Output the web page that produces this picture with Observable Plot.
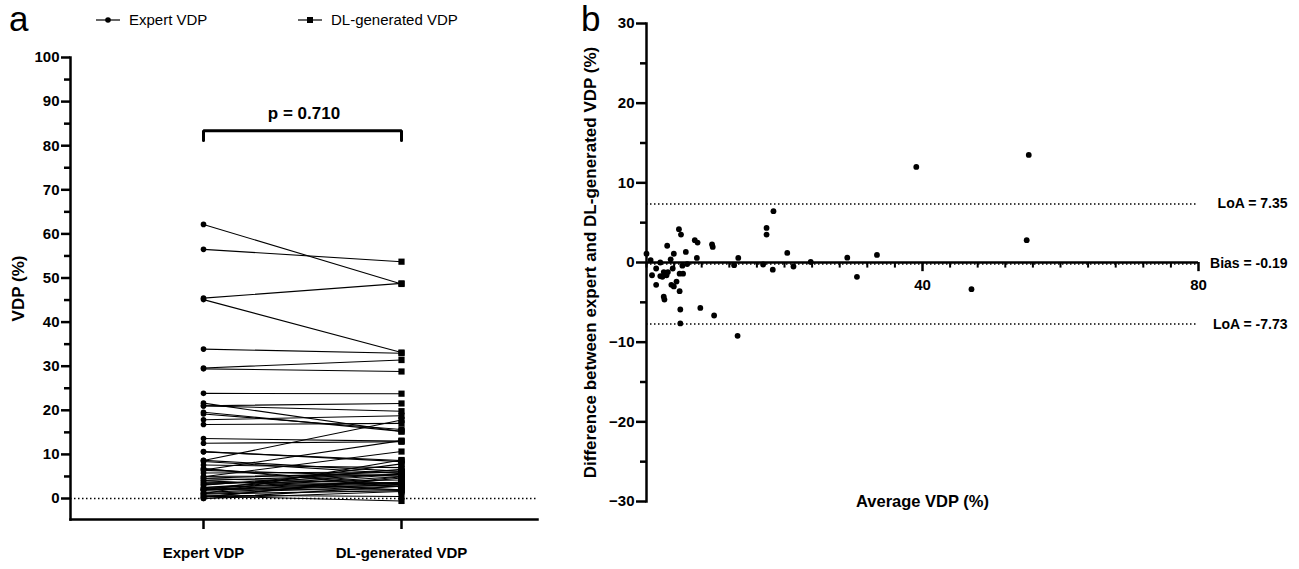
<!DOCTYPE html>
<html><head><meta charset="utf-8">
<script src="https://cdn.jsdelivr.net/npm/d3@7"></script>
<script src="https://cdn.jsdelivr.net/npm/@observablehq/plot@0.6"></script>
<style>
body{margin:0;background:#fff;}
#wrap{position:relative;width:1299px;height:569px;overflow:hidden;font-family:"Liberation Sans",Arial,sans-serif;color:#000;}
#wrap svg.pl{position:absolute;top:0;}
.lab{position:absolute;font-size:35px;line-height:1;}
.leg{position:absolute;font-size:15px;display:flex;align-items:center;gap:9px;line-height:1;}
</style></head><body>
<div id="wrap">
  <div class="lab" style="left:9px;top:1px;">a</div>
  <div class="lab" style="left:581px;top:1px;">b</div>
  <div class="leg" style="left:96px;top:12px;"><svg width="24" height="10"><line x1="0" y1="5" x2="24" y2="5" stroke="#000" stroke-width="1.2"/><circle cx="12" cy="5" r="2.8" fill="#000"/></svg><span>Expert VDP</span></div>
  <div class="leg" style="left:298px;top:12px;"><svg width="24" height="10"><line x1="0" y1="5" x2="24" y2="5" stroke="#000" stroke-width="1.2"/><rect x="9" y="2" width="6" height="6" fill="#000"/></svg><span>DL-generated VDP</span></div>
</div>
<script>
// ---- data ----
const groups = ["Expert VDP", "DL-generated VDP"];
const expert = [62.15, 56.5, 45.43, 45.1, 33.88, 29.6, 29.4, 23.84, 21.05, 21.0, 21.62, 19.57, 19.15, 17.85, 16.78, 13.59, 12.53, 8.6, 10.63, 10.58, 6.48, 4.95, 8.4, 8.65, 7.59, 6.37, 6.79, 6.75, 1.08, 1.95, 3.0, 4.1, 4.6, 5.0, 5.8, 4.51, 3.43, 3.7, 4.05, 3.15, 2.46, 2.2, 2.1, 1.9, 1.95, 1.15, 0.35, 0.28, 0.0, 0.0, 1.03, 2.0, 0.75, 0.55, 1.4, 2.5];
const dl = [48.65, 53.7, 48.78, 33.1, 32.93, 31.4, 28.8, 23.77, 21.55, 19.8, 15.18, 15.23, 15.65, 18.75, 17.03, 13.01, 12.87, 17.8, 8.37, 8.62, 13.13, 10.65, 5.6, 6.15, 7.01, 5.04, 2.61, 3.25, 8.73, 7.85, 6.6, 5.5, 6.0, 5.4, 6.0, 3.41, 4.18, 3.3, 1.95, 5.55, 5.46, 5.0, 3.7, 3.1, 3.45, 2.85, 4.65, 4.93, 2.8, 1.6, 1.78, 2.0, 0.45, -0.55, 3.2, 3.7];
const avgVDP = [55.4, 55.1, 47.1, 39.1, 33.4, 30.5, 29.1, 23.8, 21.3, 20.4, 18.4, 17.4, 17.4, 18.3, 16.9, 13.3, 12.7, 13.2, 9.5, 9.6, 9.8, 7.8, 7.0, 7.4, 7.3, 5.7, 4.7, 5.0, 4.9, 4.9, 4.8, 4.8, 5.3, 5.2, 5.9, 3.96, 3.8, 3.5, 3.0, 4.35, 3.96, 3.6, 2.9, 2.5, 2.7, 2.0, 2.5, 2.6, 1.4, 0.8, 1.4, 2.0, 0.6, 0.0, 2.3, 3.1];
const diffVDP = [13.5, 2.8, -3.35, 12.0, 0.95, -1.8, 0.6, 0.07, -0.5, 1.2, 6.44, 4.34, 3.5, -0.9, -0.25, 0.58, -0.34, -9.2, 2.26, 1.96, -6.65, -5.7, 2.8, 2.5, 0.58, 1.33, 4.18, 3.5, -7.65, -5.9, -3.6, -1.4, -1.4, -0.4, -0.2, 1.1, -0.75, 0.4, 2.1, -2.4, -3.0, -2.8, -1.6, -1.2, -1.5, -1.7, -4.3, -4.65, -2.8, -1.6, -0.75, 0.0, 0.3, 1.1, -1.8, -1.2];
const yTicksA = [0, 10, 20, 30, 40, 50, 60, 70, 80, 90, 100];
const yMinorA = [5, 15, 25, 35, 45, 55, 65, 75, 85, 95];
const yTicksB = [-30, -20, -10, 0, 10, 20, 30];
const yMinorB = [-25, -15, -5, 5, 15, 25];
const xMinorB = [0, 4, 8, 12, 16, 20, 24, 28, 32, 36, 44, 48, 52, 56, 60, 64, 68, 72, 76];
const xMajorB = [40, 80];
const pLabel = "p = 0.710";
const pLevels = [81.2, 83.4];   // bracket foot / top
const pTextLevel = 87.3;
const refValues = [7.35, -0.19, -7.73];
const refLabels = ["LoA = 7.35", "Bias = -0.19", "LoA = -7.73"];

const FONT = "'Liberation Sans', Arial, Helvetica, sans-serif";

// ---- panel a ----
const rows = expert.flatMap((e, i) => [{id: i, g: groups[0], v: e}, {id: i, g: groups[1], v: dl[i]}]);
const bracket = [
  {g: groups[0], v: pLevels[0]}, {g: groups[0], v: pLevels[1]},
  {g: groups[1], v: pLevels[1]}, {g: groups[1], v: pLevels[0]}
];
const plotA = Plot.plot({
  width: 560, height: 569,
  marginLeft: 70, marginRight: 23, marginTop: 57, marginBottom: 50,
  style: {fontFamily: FONT, fontWeight: "bold", fontSize: "15px", color: "#000", background: "transparent", overflow: "visible"},
  x: {type: "point", domain: groups, range: [203, 401], padding: 0, axis: null},
  y: {domain: [-4.76, 100], range: [519, 57], axis: null},
  marks: [
    Plot.ruleY([0], {stroke: "#000", strokeWidth: 1.5, strokeDasharray: "1.5,2.5"}),
    Plot.line(rows, {x: "g", y: "v", z: "id", stroke: "#000", strokeWidth: 1.1}),
    Plot.dot(rows.filter(d => d.g === groups[0]), {x: "g", y: "v", r: 2.8, fill: "#000", symbol: "circle"}),
    Plot.dot(rows.filter(d => d.g === groups[1]), {x: "g", y: "v", r: 3.5, fill: "#000", symbol: "square"}),
    Plot.line(bracket, {x: "g", y: "v", stroke: "#000", strokeWidth: 3, strokeLinejoin: "miter"}),
    Plot.text([pLabel], {y: [pTextLevel], frameAnchor: "middle", text: d => d, fontSize: 17, fontWeight: "bold"}),
    Plot.frame({anchor: "left", stroke: "#000", strokeWidth: 2.5, strokeLinecap: "square"}),
    Plot.frame({anchor: "bottom", stroke: "#000", strokeWidth: 2.5, strokeLinecap: "square"}),
    Plot.axisY(yTicksA, {tickSize: 9, strokeWidth: 2.5, tickPadding: 2, label: null, fontSize: 15}),
    Plot.axisY(yMinorA, {tickSize: 6, strokeWidth: 2.5, tickFormat: () => "", label: null}),
    Plot.axisX(groups, {tickSize: 10, strokeWidth: 2.5, tickPadding: 18, label: null, fontSize: 15}),
    Plot.text(["VDP (%)"], {frameAnchor: "left", dx: -52, rotate: -90, textAnchor: "middle", text: d => d, fontSize: 17, fontWeight: "bold"})
  ]
});
plotA.classList.add("pl");
plotA.style.left = "0px";

// ---- panel b ----
const ptsB = avgVDP.map((a, i) => ({a, d: diffVDP[i]}));
const refs = refValues.map((v, i) => ({v, label: refLabels[i]}));
const plotB = Plot.plot({
  width: 739, height: 569,
  marginLeft: 86, marginRight: 101, marginTop: 23, marginBottom: 68,
  style: {fontFamily: FONT, fontWeight: "bold", fontSize: "15px", color: "#000", background: "transparent", overflow: "visible"},
  x: {domain: [0, 80], axis: null},
  y: {domain: [-30, 30], axis: null},
  marks: [
    Plot.ruleY(refs, {y: "v", x1: 0, x2: 80, stroke: "#000", strokeWidth: 1.5, strokeDasharray: "1.5,2.5"}),
    Plot.ruleY([0], {x1: 0, x2: 80, stroke: "#000", strokeWidth: 2.5}),
    Plot.ruleX(xMinorB, {x: d => d, y1: 0, y2: -0.7, stroke: "#000", strokeWidth: 2}),
    Plot.ruleX(xMajorB, {x: d => d, y1: 0, y2: -1.15, stroke: "#000", strokeWidth: 2.5}),
    Plot.text(xMajorB, {x: d => d, y: () => 0, dy: 23, text: d => String(d), fontSize: 15, fontWeight: "bold"}),
    Plot.dot(ptsB, {x: "a", y: "d", r: 2.9, fill: "#000"}),
    Plot.frame({anchor: "left", stroke: "#000", strokeWidth: 2.5}),
    Plot.axisY(yTicksB, {tickSize: 10, strokeWidth: 2.5, tickPadding: 2, label: null, fontSize: 15}),
    Plot.axisY(yMinorB, {tickSize: 6, strokeWidth: 2.5, tickFormat: () => "", label: null}),
    Plot.text(refs, {y: "v", frameAnchor: "right", dx: 89, textAnchor: "end", text: "label", fontSize: 14, fontWeight: "bold"}),
    Plot.text(["Difference between expert and DL-generated VDP (%)"], {frameAnchor: "left", dx: -56, rotate: -90, textAnchor: "middle", text: d => d, fontSize: 17, fontWeight: "bold"}),
    Plot.text(["Average VDP (%)"], {frameAnchor: "bottom", dy: 5, text: d => d, fontSize: 16.5, fontWeight: "bold"})
  ]
});
plotB.classList.add("pl");
plotB.style.left = "560px";

const wrap = document.getElementById("wrap");
wrap.insertBefore(plotB, wrap.firstChild);
wrap.insertBefore(plotA, wrap.firstChild);
</script>
</body></html>
